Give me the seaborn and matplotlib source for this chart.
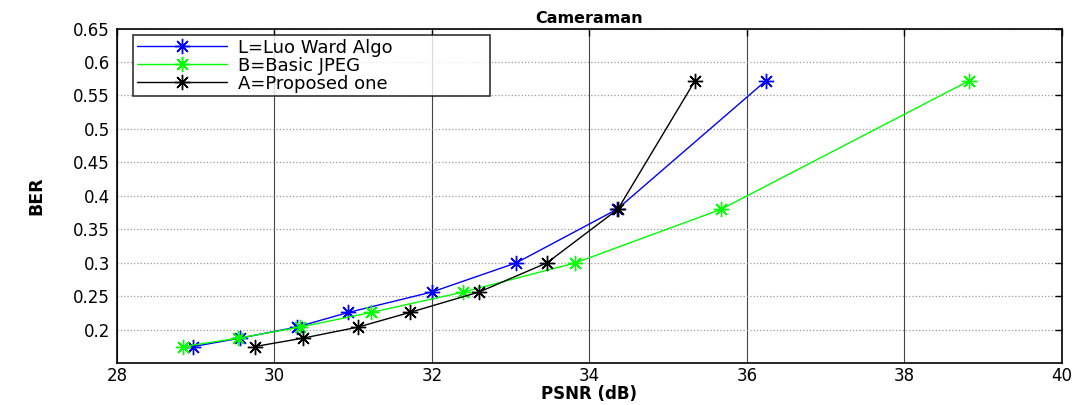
import matplotlib
matplotlib.use("Agg")
import matplotlib.pyplot as plt
import seaborn as sns
import pandas as pd

ber = [0.175, 0.1875, 0.204, 0.226, 0.2565, 0.30, 0.38, 0.572]
psnr_luo = [28.97, 29.56, 30.28, 30.94, 32.00, 33.07, 34.35, 36.24]
psnr_basic = [28.84, 29.54, 30.32, 31.23, 32.40, 33.82, 35.67, 38.82]
psnr_prop = [29.75, 30.36, 31.06, 31.72, 32.60, 33.46, 34.36, 35.34]

series_names = ["L=Luo Ward Algo", "B=Basic JPEG", "A=Proposed one"]
series_colors = ["#0000ff", "#00ff00", "#000000"]

x_ticks = [28, 30, 32, 34, 36, 38, 40]
y_ticks = [0.2, 0.25, 0.3, 0.35, 0.4, 0.45, 0.5, 0.55, 0.6, 0.65]

sns.set_style("white")
plt.rcParams['font.family'] = ['DejaVu Sans']
plt.rcParams['text.color'] = 'black'
plt.rcParams['axes.labelcolor'] = 'black'

fig = plt.figure(figsize=(10.83, 4.05), dpi=100)
ax = fig.add_axes([0.108, 0.103, 0.8726, 0.8266])

for name, xs, c in zip(series_names, [psnr_luo, psnr_basic, psnr_prop], series_colors):
    df = pd.DataFrame({"PSNR": xs, "BER": ber})
    sns.lineplot(data=df, x="PSNR", y="BER", ax=ax, sort=False, color=c,
                 marker=(8, 2, 0), markersize=11, markeredgewidth=1.0,
                 markeredgecolor=c, linewidth=1.0, label=name)

ax.set_xlim(28, 40)
ax.set_ylim(0.15, 0.65)
ax.set_xticks(x_ticks)
ax.set_yticks(y_ticks)
ax.set_xticklabels([str(t) for t in x_ticks])
ax.set_yticklabels([f"{t:g}" for t in y_ticks])
ax.tick_params(direction="in", top=True, right=True, length=5, width=1,
               labelsize=12, colors="black")
ax.tick_params(axis="x", pad=3)
ax.tick_params(axis="y", pad=5)

ax.xaxis.grid(True, color="#444444", linestyle="-", linewidth=0.8)
ax.yaxis.grid(True, color="#999999", linestyle=":", linewidth=0.9)
for s in ax.spines.values():
    s.set_color("black")
    s.set_linewidth(1.2)

ax.set_title("Cameraman", fontsize=11.5, fontweight="bold", pad=4, color="black")
ax.set_xlabel("PSNR (dB)", fontsize=12, fontweight="bold", labelpad=0, color="black")
ax.set_ylabel("BER", fontsize=12.5, fontweight="bold", labelpad=20, color="black")

leg = ax.legend(loc="upper left", bbox_to_anchor=(0.017, 0.98, 0.378, 0.0),
                mode="expand", fontsize=13,
                frameon=True, fancybox=False, borderpad=0.2, labelspacing=0.0,
                handlelength=5.0, handletextpad=0.6, borderaxespad=0)
leg.get_frame().set_edgecolor("black")
leg.get_frame().set_linewidth(1.2)
for t in leg.get_texts():
    t.set_color("black")

fig.savefig("out.png", dpi=100)
